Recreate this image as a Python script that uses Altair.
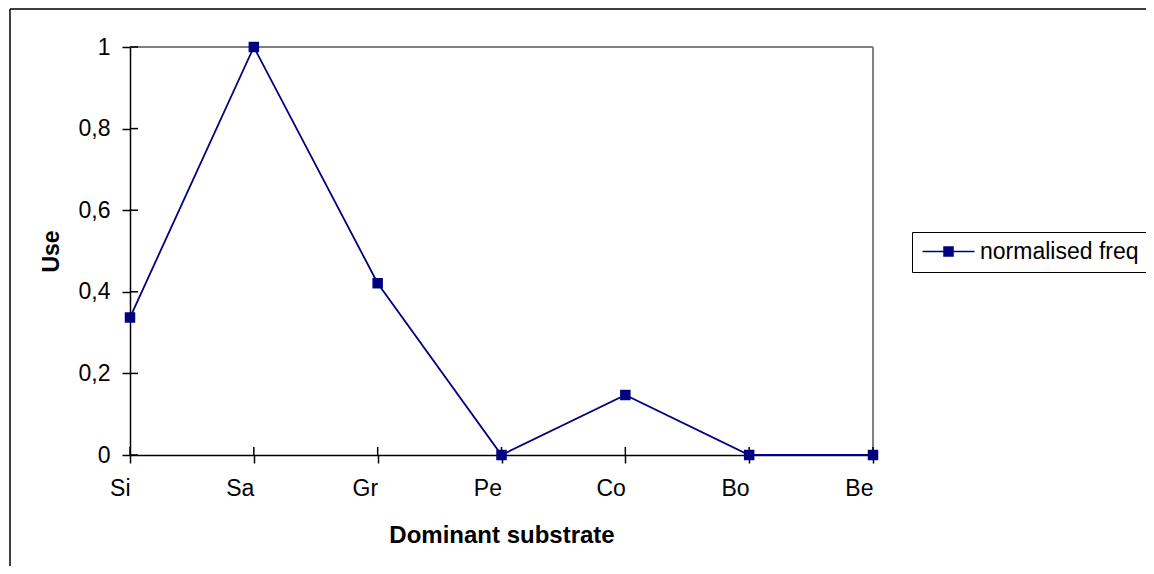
import altair as alt
import pandas as pd

categories = ["Si", "Sa", "Gr", "Pe", "Co", "Bo", "Be"]
values = [0.337, 1.0, 0.421, 0.0, 0.147, 0.0, 0.0]
series_name = "normalised freq"
y_ticks = [0, 0.2, 0.4, 0.6, 0.8, 1.0]

df = pd.DataFrame({"cat": categories, "val": values, "series": series_name})
ticks_df = pd.DataFrame({"t": y_ticks})
cat_df = pd.DataFrame({"cat": categories})

FONT = "Liberation Sans"
NAVY = "#000080"
W, H = 743, 408

xscale = alt.Scale(type="point", padding=0, domain=categories)
yscale = alt.Scale(domain=[0, 1], nice=False, zero=True)

x_enc = alt.X(
    "cat:N", sort=categories, scale=xscale,
    axis=alt.Axis(title="Dominant substrate", labelAngle=0, labelPadding=25,
                  titlePadding=23, titleFontSize=24),
)
y_enc = alt.Y(
    "val:Q", scale=yscale,
    axis=alt.Axis(title="Use", values=y_ticks, labelPadding=12, titlePadding=15,
                  labelExpr="replace(toString(datum.value), '.', ',')"),
)

one = alt.Data(values=[{"a": 1}])
frame_top = alt.Chart(one).mark_rule(color="black", strokeWidth=1.5).encode(
    x=alt.value(-120), x2=alt.value(1016), y=alt.value(-38)
)
frame_left = alt.Chart(one).mark_rule(color="black", strokeWidth=1.5).encode(
    x=alt.value(-120), y=alt.value(-38), y2=alt.value(700)
)

top_border = alt.Chart(one).mark_rule(color="#808080", strokeWidth=2).encode(
    x=alt.X("x1:N", scale=xscale, sort=categories), x2=alt.X2("x2:N"),
    y=alt.Y("y1:Q", scale=yscale),
).transform_calculate(x1="'Si'", x2="'Be'", y1="1")

right_border = alt.Chart(one).mark_rule(color="#808080", strokeWidth=2).encode(
    x=alt.X("x1:N", scale=xscale, sort=categories),
    y=alt.Y("y1:Q", scale=yscale), y2=alt.Y2("y2:Q"),
).transform_calculate(x1="'Be'", y1="0", y2="1")

ytick_in = alt.Chart(ticks_df).mark_rule(color="black", strokeWidth=1.5).encode(
    y=alt.Y("t:Q", scale=yscale), x=alt.value(0), x2=alt.value(8)
)
xtick_in = alt.Chart(cat_df).mark_rule(color="black", strokeWidth=1.5).encode(
    x=alt.X("cat:N", scale=xscale, sort=categories), y=alt.value(H), y2=alt.value(H - 8)
)

color_enc = alt.Color(
    "series:N", scale=alt.Scale(domain=[series_name], range=[NAVY]),
    legend=alt.Legend(
        title=None, orient="none", legendX=782, legendY=185,
        strokeColor="black", fillColor="white", padding=8,
        symbolType="M-5.2,0H5.2M-0.9,-0.9H0.9V0.9H-0.9Z",
        symbolSize=100, symbolStrokeWidth=1.5, symbolOffset=17,
        symbolFillColor=NAVY, symbolStrokeColor=NAVY,
        labelFont=FONT, labelFontSize=23, labelColor="black", labelOffset=20,
    ),
)

line = alt.Chart(df).mark_line(color=NAVY, strokeWidth=1.8).encode(
    x=x_enc, y=y_enc, color=color_enc
)
points = alt.Chart(df).mark_point(shape="square", filled=True, size=110, opacity=1).encode(
    x=alt.X("cat:N", sort=categories, scale=xscale),
    y=alt.Y("val:Q", scale=yscale),
    color=alt.Color("series:N", scale=alt.Scale(domain=[series_name], range=[NAVY]), legend=None),
)

chart = alt.layer(frame_top, frame_left, top_border, right_border, ytick_in, xtick_in, line, points).properties(
    width=W, height=H,
    autosize=alt.AutoSizeParams(type="none"),
    padding={"left": 122, "top": 39, "right": 273, "bottom": 111},
).configure_view(stroke=None).configure_axis(
    grid=False, domainColor="black", domainWidth=1.5, tickColor="black", tickWidth=1.5,
    tickSize=8, labelFont=FONT, labelFontSize=23, labelColor="black",
    titleFont=FONT, titleFontSize=23, titleFontWeight="bold", titleColor="black",
)

chart.save("out.html", embed_options={"renderer": "svg", "actions": False})
